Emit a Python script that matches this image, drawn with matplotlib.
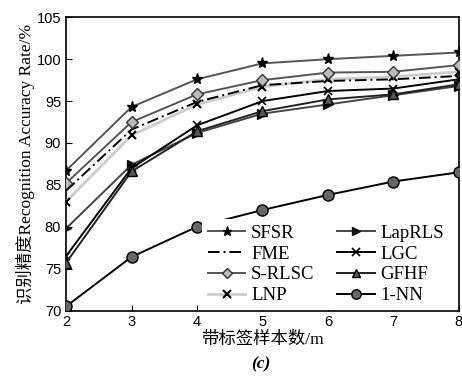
import numpy as np
import matplotlib
matplotlib.use("Agg")
import matplotlib.pyplot as plt

#%% Data
m = [2, 3, 4, 5, 6, 7, 8]
sfsr = [86.7, 94.3, 97.6, 99.5, 100.0, 100.4, 100.8]
fme = [84.3, 91.6, 94.9, 96.9, 97.4, 97.6, 98.0]
srlsc = [85.2, 92.5, 95.8, 97.5, 98.4, 98.5, 99.3]
lnp = [83.0, 90.9, 94.6, 96.7, 97.6, 97.9, 98.5]
laprls = [79.8, 87.4, 91.2, 93.5, 94.6, 95.7, 96.8]
lgc = [76.5, 87.0, 92.1, 95.0, 96.2, 96.5, 97.6]
gfhf = [75.7, 86.6, 91.4, 93.8, 95.2, 95.8, 97.0]
nn1 = [70.5, 76.4, 80.0, 82.0, 83.8, 85.4, 86.5]

serif = ['Liberation Serif', 'Noto Sans CJK SC']
plt.rcParams['font.family'] = ['Liberation Sans', 'DejaVu Sans']

#%% Plot
fig = plt.figure(figsize=(4.62, 3.76), dpi=100)
ax = fig.add_axes([0.143, 0.174, 0.850, 0.780])

lw = 1.4
ax.plot(m, sfsr, color='#555555', lw=lw, marker='*', ms=8, mfc='black', mec='black', label='SFSR', zorder=5)
ax.plot(m, fme, color='black', lw=lw, ls=(0, (6, 2, 1, 2)), label='FME', zorder=4)
ax.plot(m, srlsc, color='#555555', lw=lw, marker='D', ms=6, mfc='#bbbbbb', mec='#333333', label='S-RLSC', zorder=5)
ax.plot(m, lnp, color='#cccccc', lw=2, marker='x', ms=6, mec='black', mew=1.5, label='LNP', zorder=3)
ax.plot(m, laprls, color='#444444', lw=lw, marker='>', ms=7, mfc='#111111', mec='#111111', label='LapRLS', zorder=4)
ax.plot(m, lgc, color='black', lw=lw, marker='x', ms=6, mec='black', mew=1.2, label='LGC', zorder=4)
ax.plot(m, gfhf, color='#222222', lw=lw, marker='^', ms=7, mfc='#555555', mec='black', label='GFHF', zorder=4)
ax.plot(m, nn1, color='black', lw=lw, marker='o', ms=8, mfc='#666666', mec='black', label='1-NN', zorder=4)

ax.set_xlim(2, 8)
ax.set_ylim(70, 105)
ax.set_xticks(m)
ax.set_yticks(np.arange(70, 106, 5))
ax.tick_params(direction='in', labelsize=10.5, length=4, top=False, right=False)
for s in ax.spines.values():
    s.set_linewidth(1.2)

ax.set_xlabel('带标签样本数/m', family=serif, fontsize=12.5, labelpad=2)
ax.set_ylabel('识别精度Recognition Accuracy Rate/%', family=serif, fontsize=12.5, labelpad=1)
fig.text(0.565, 0.01, '(c)', family='Liberation Serif', fontsize=12.5, fontweight='bold',
         fontstyle='italic', ha='center', va='bottom')

leg = ax.legend(loc='lower right', ncol=2, bbox_to_anchor=(1.0, -0.03),
                prop={'family': 'Liberation Serif', 'size': 13.5},
                frameon=True, fancybox=False, edgecolor='none', facecolor='white', framealpha=1,
                handlelength=2.0, handletextpad=0.3, columnspacing=1.2, labelspacing=0.2,
                borderpad=0.3, markerscale=0.85)

fig.savefig('out.png', dpi=100)
